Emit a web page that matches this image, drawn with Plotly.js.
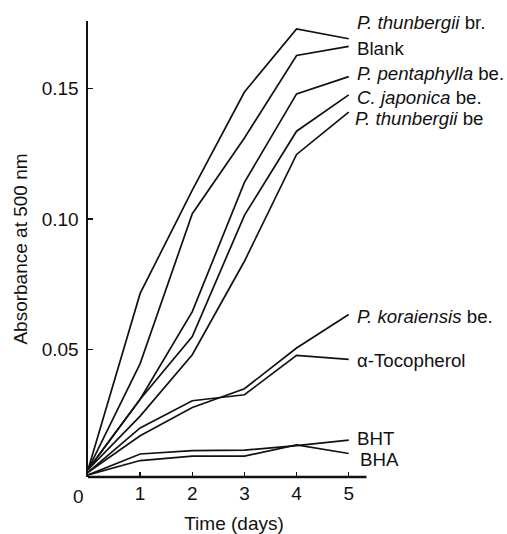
<!DOCTYPE html>
<html>
<head>
<meta charset="utf-8">
<script src="https://cdn.plot.ly/plotly-3.0.1.min.js"></script>
<style>html,body{margin:0;padding:0;background:#fff;}#chart{width:507px;height:534px;}</style>
</head>
<body>
<div id="chart"></div>
<script>
// Time (days)
var days = [0, 1, 2, 3, 4, 5];

// Absorbance at 500 nm, one array per sample
var thunbergiiBr = [0.004, 0.0715, 0.111, 0.1486, 0.1728, 0.1690];
var blank        = [0.004, 0.0446, 0.102, 0.1310, 0.1626, 0.1661];
var pentaphylla  = [0.004, 0.0310, 0.0645, 0.1140, 0.1479, 0.1545];
var japonica     = [0.004, 0.0310, 0.0550, 0.1014, 0.1336, 0.1475];
var thunbergiiBe = [0.004, 0.0245, 0.0480, 0.0838, 0.1247, 0.1409];
var koraiensis   = [0.003, 0.0170, 0.0278, 0.0350, 0.0506, 0.0634];
var tocopherol   = [0.003, 0.0200, 0.0304, 0.0327, 0.0478, 0.0462];
var bht          = [0.002, 0.0100, 0.0113, 0.0115, 0.0132, 0.0153];
var bha          = [0.002, 0.0075, 0.0092, 0.0092, 0.0135, 0.0102];

var seriesNames = ["P. thunbergii br.", "Blank", "P. pentaphylla be.", "C. japonica be.",
                   "P. thunbergii be", "P. koraiensis be.", "α-Tocopherol", "BHT", "BHA"];
var seriesValues = [thunbergiiBr, blank, pentaphylla, japonica, thunbergiiBe,
                    koraiensis, tocopherol, bht, bha];

// Label texts (rich text) and their placement at the right end
var labelTexts = ["<i>P. thunbergii</i> br.", "Blank", "<i>P. pentaphylla</i> be.",
                  "<i>C. japonica</i> be.", "<i>P. thunbergii</i> be", "<i>P. koraiensis</i> be.",
                  "α-Tocopherol", "BHT", "BHA"];
var labelX = [5.12, 5.12, 5.12, 5.12, 5.08, 5.12, 5.12, 5.12, 5.18];
var labelY = [0.1753, 0.1651, 0.1556, 0.1467, 0.1384, 0.0625, 0.0459, 0.0160, 0.0078];

var xTicks = [1, 2, 3, 4, 5];
var yTicks = [0.05, 0.10, 0.15];
var yTickText = ["0.05", "0.10", "0.15"];

var FONT = "Liberation Sans, Arial, Helvetica, sans-serif";

var traces = seriesValues.map(function (vals, i) {
  return {
    x: days, y: vals, name: seriesNames[i], type: "scatter", mode: "lines",
    line: {color: "#111", width: 1.7}, showlegend: false, hoverinfo: "x+y+name"
  };
});

var annotations = labelTexts.map(function (t, i) {
  return {
    x: labelX[i], y: labelY[i], xref: "x", yref: "y", text: t, showarrow: false,
    xanchor: "left", yanchor: "middle", font: {family: FONT, size: 18.7, color: "#111"}
  };
});
annotations.push({
  x: 0, y: 0, xref: "x", yref: "paper", text: "0", showarrow: false,
  xanchor: "right", yanchor: "top", xshift: -2, yshift: -7,
  font: {family: FONT, size: 19, color: "#111"}
});

var layout = {
  width: 507, height: 534,
  margin: {l: 87.5, r: 126.5, t: 20.7, b: 57, pad: 0},
  paper_bgcolor: "#fff", plot_bgcolor: "#fff",
  font: {family: FONT, size: 19, color: "#111"},
  xaxis: {
    range: [0, 5.60], showgrid: false, zeroline: false, showline: false,
    tickmode: "array", tickvals: xTicks, ticktext: xTicks.map(String),
    ticks: "inside", ticklen: 5, tickwidth: 1.5, tickcolor: "#111",
    ticklabelstandoff: 3,
    tickfont: {family: FONT, size: 19, color: "#111"},
    title: {text: "Time (days)", font: {family: FONT, size: 19, color: "#111"}, standoff: 14}
  },
  yaxis: {
    range: [0.0012, 0.1758], showgrid: false, zeroline: false,
    showline: true, linewidth: 2.5, linecolor: "#111",
    tickmode: "array", tickvals: yTicks, ticktext: yTickText,
    ticks: "inside", ticklen: 5, tickwidth: 1.5, tickcolor: "#111",
    ticklabelstandoff: 3,
    tickfont: {family: FONT, size: 19, color: "#111"},
    title: {text: "Absorbance at 500 nm", font: {family: FONT, size: 19, color: "#111"}, standoff: 9}
  },
  shapes: [{
    type: "line", xref: "x", yref: "paper", x0: 0, x1: 5.34, y0: 0, y1: 0,
    line: {color: "#111", width: 2.5}
  }],
  annotations: annotations
};

Plotly.newPlot("chart", traces, layout, {displayModeBar: false, staticPlot: true});
</script>
</body>
</html>
